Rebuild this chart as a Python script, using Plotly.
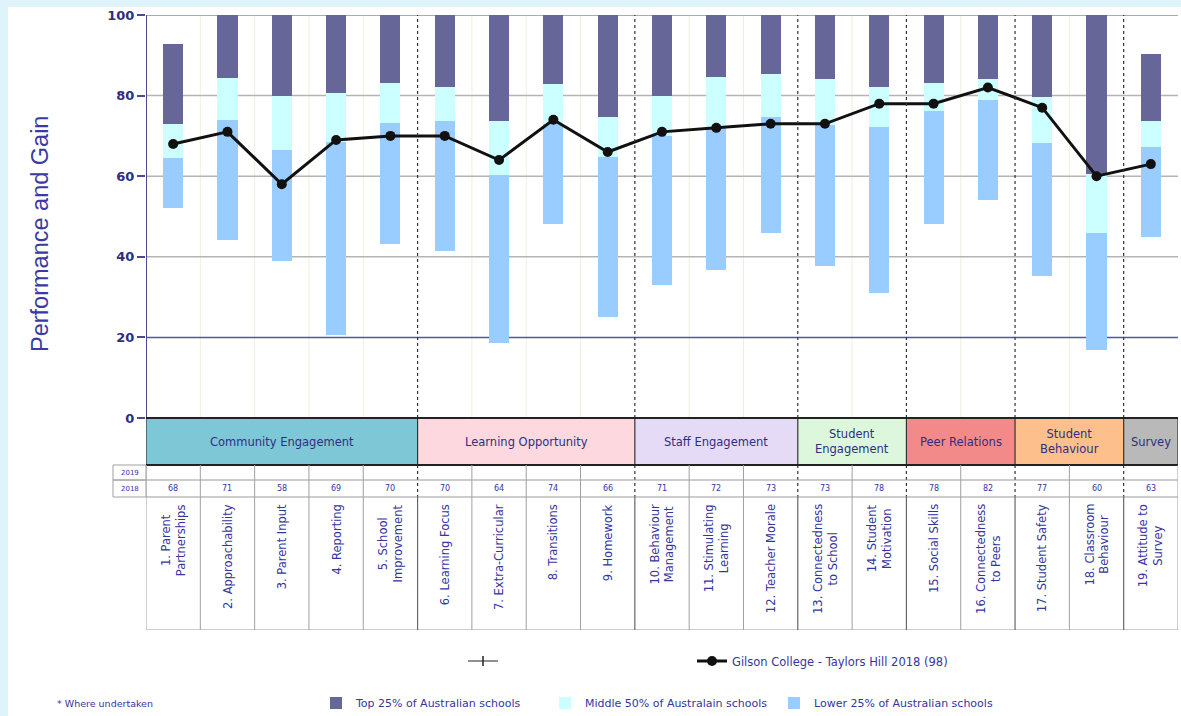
import plotly.graph_objects as go

# ---------------- data ----------------
labels = ["1. Parent<br>Partnerships", "2. Approachability", "3. Parent Input", "4. Reporting",
          "5. School<br>Improvement", "6. Learning Focus", "7. Extra-Curricular", "8. Transitions",
          "9. Homework", "10. Behaviour<br>Management", "11. Stimulating<br>Learning",
          "12. Teacher Morale", "13. Connectedness<br>to School", "14. Student<br>Motivation",
          "15. Social Skills", "16. Connectedness<br>to Peers", "17. Student Safety",
          "18. Classroom<br>Behaviour", "19. Attitude to<br>Survey"]
lower_min = [52.0, 44.2, 39.0, 20.6, 43.3, 41.5, 18.6, 48.2, 25.0, 33.0, 36.7, 46.0, 37.7, 31.1, 48.2, 54.2, 35.2, 16.9, 45.0]
lower_top = [64.6, 74.0, 66.6, 68.6, 73.1, 73.8, 60.2, 73.0, 64.7, 70.1, 72.0, 74.6, 72.6, 72.2, 76.3, 78.8, 68.2, 46.0, 67.2]
middle_top = [72.9, 84.3, 79.8, 80.6, 83.1, 82.2, 73.6, 82.9, 74.8, 80.0, 84.5, 85.4, 84.1, 82.1, 83.1, 84.1, 79.6, 60.6, 73.6]
top_max = [92.8, 100, 100, 100, 100, 100, 100, 100, 100, 100, 100, 100, 100, 100, 100, 100, 100, 100, 90.3]
school_2018 = [68, 71, 58, 69, 70, 70, 64, 74, 66, 71, 72, 73, 73, 78, 78, 82, 77, 60, 63]
groups = ["Community Engagement", "Learning Opportunity", "Staff Engagement", "Student<br>Engagement",
          "Peer Relations", "Student<br>Behaviour", "Survey"]
group_sizes = [5, 4, 3, 2, 2, 2, 1]
group_colors = ["#7ec7d7", "#fdd8de", "#e6dbf7", "#dcf7dc", "#f28a8a", "#fdbf8b", "#b9b9b9"]
series_name = "Gilson College - Taylors Hill 2018 (98)"
y_ticks = [0, 20, 40, 60, 80, 100]

# ---------------- geometry helpers ----------------
W, H = 1181, 716
L, R, T, B = 146, 3, 15, 86
PW, PH = W - L - R, H - T - B
K = 4.03                      # px per unit
Y0PX = 418                    # pixel of value 0
YMIN = -(H - B - Y0PX) / K

def yv(py):
    return (Y0PX - py) / K

def xp(px):
    return (px - L) / PW

def yp(py):
    return (H - B - py) / PH

n = len(labels)
xs = list(range(1, n + 1))
NAVY = "#2f2f80"
TXT = "#3535a0"
WIDE = "DejaVu Sans, Verdana, sans-serif"

fig = go.Figure()

fig.add_trace(go.Bar(x=xs, y=[b - a for a, b in zip(lower_min, lower_top)], base=lower_min,
                     width=0.37, marker=dict(color="#99ccff", line=dict(width=0)),
                     name="Lower 25% of Australian schools", legend="legend2", legendrank=3))
fig.add_trace(go.Bar(x=xs, y=[b - a for a, b in zip(lower_top, middle_top)], base=lower_top,
                     width=0.37, marker=dict(color="#ccffff", line=dict(width=0)),
                     name="Middle 50% of Australain schools", legend="legend2", legendrank=2))
fig.add_trace(go.Bar(x=xs, y=[b - a for a, b in zip(middle_top, top_max)], base=middle_top,
                     width=0.37, marker=dict(color="#666699", line=dict(width=0)),
                     name="Top 25% of Australian schools", legend="legend2", legendrank=1))

fig.add_trace(go.Scatter(x=[None], y=[None], mode="lines+markers", name=" ",
                         line=dict(color="#222", width=1),
                         marker=dict(symbol="line-ns-open", size=7, line=dict(width=1.5, color="#222"))))
fig.add_trace(go.Scatter(x=xs, y=school_2018, mode="lines+markers", name=series_name,
                         line=dict(color="#111111", width=3), legend="legend3",
                         marker=dict(color="#111111", size=10)))

shapes = []
shapes.append(dict(type="rect", xref="paper", yref="paper", x0=xp(8), x1=xp(W + 20),
                   y0=yp(H + 20), y1=yp(7), fillcolor="white", line=dict(width=0), layer="below"))

boundaries = []
acc = 0
for s in group_sizes[:-1]:
    acc += s
    boundaries.append(acc + 0.5)

for i in range(1, n):
    if i + 0.5 not in boundaries:
        shapes.append(dict(type="line", xref="x", yref="y", x0=i + 0.5, x1=i + 0.5, y0=0, y1=100,
                           line=dict(color="#efefdf", width=1), layer="below"))
for g in [20, 40, 60, 80, 100]:
    col = {20: "#5555a5", 100: "#8a8ab8"}.get(g, "#b4b4b4")
    shapes.append(dict(type="line", xref="x", yref="y", x0=0.5, x1=n + 0.5, y0=g, y1=g,
                       line=dict(color=col, width=1.5), layer="below"))
for b in boundaries:
    shapes.append(dict(type="line", xref="x", yref="y", x0=b, x1=b, y0=0, y1=100,
                       line=dict(color="#333333", width=1.2, dash="dot")))
    shapes.append(dict(type="line", xref="x", yref="y", x0=b, x1=b, y0=yv(465), y1=yv(497),
                       line=dict(color="#333333", width=1.2, dash="dot")))
shapes.append(dict(type="line", xref="x", yref="y", x0=0.5, x1=0.5, y0=0, y1=100,
                   line=dict(color="#4a4a90", width=2)))

start = 0.5
for g, s, c in zip(groups, group_sizes, group_colors):
    shapes.append(dict(type="rect", xref="x", yref="y", x0=start, x1=start + s, y0=yv(465), y1=0,
                       fillcolor=c, line=dict(width=0)))
    shapes.append(dict(type="line", xref="x", yref="y", x0=start, x1=start, y0=yv(465), y1=0,
                       line=dict(color="#333333", width=1.2)))
    start += s
shapes.append(dict(type="line", xref="x", yref="y", x0=n + 0.5, x1=n + 0.5, y0=yv(465), y1=0,
                   line=dict(color="#333333", width=1.2)))
for yy in [0, yv(465)]:
    shapes.append(dict(type="line", xref="x", yref="y", x0=0.5, x1=n + 0.5, y0=yy, y1=yy,
                       line=dict(color="#222222", width=2)))

for py in [480, 497, 630]:
    shapes.append(dict(type="line", xref="x", yref="y", x0=0.5, x1=n + 0.5, y0=yv(py), y1=yv(py),
                       line=dict(color="#9a9a9a", width=1)))
for i in range(0, n + 1):
    xb = i + 0.5
    if xb in boundaries:
        shapes.append(dict(type="line", xref="x", yref="y", x0=xb, x1=xb, y0=yv(497), y1=yv(630),
                           line=dict(color="#666666", width=1.2)))
    else:
        shapes.append(dict(type="line", xref="x", yref="y", x0=xb, x1=xb, y0=yv(465), y1=yv(630),
                           line=dict(color="#a0a0a0", width=1)))
for py0, py1 in [(465, 480), (480, 497)]:
    shapes.append(dict(type="rect", xref="paper", yref="y", x0=xp(113), x1=xp(146),
                       y0=yv(py1), y1=yv(py0), line=dict(color="#a0a0a0", width=1)))

annotations = []
for yr, py in [("2019", 472.5), ("2018", 488.5)]:
    annotations.append(dict(xref="paper", yref="y", x=xp(129.5), y=yv(py), text=yr,
                            xanchor="center", yanchor="middle", showarrow=False,
                            font=dict(size=7, color=TXT, family=WIDE)))
for x, v, lab in zip(xs, school_2018, labels):
    annotations.append(dict(xref="x", yref="y", x=x, y=yv(488.5), text=str(v), showarrow=False,
                            xanchor="center", yanchor="middle",
                            font=dict(size=8, color=TXT, family=WIDE)))
    annotations.append(dict(xref="x", yref="y", x=x, y=yv(502), text=lab, textangle=-90,
                            yanchor="top", xanchor="center", align="center", showarrow=False,
                            font=dict(size=11.5, color=TXT, family=WIDE)))
start = 0.5
for g, s in zip(groups, group_sizes):
    annotations.append(dict(xref="x", yref="y", x=start + s / 2, y=yv(441.5), text=g,
                            xanchor="center", yanchor="middle", showarrow=False,
                            font=dict(size=11.5, color=NAVY, family=WIDE)))
    start += s
annotations.append(dict(xref="paper", yref="paper", x=xp(40), y=yp(234), text="Performance and Gain",
                        xanchor="center", yanchor="middle",
                        textangle=-90, showarrow=False, font=dict(size=23.5, color="#3a3aa5")))
annotations.append(dict(xref="paper", yref="paper", x=xp(55), y=yp(703), xanchor="left",
                        yanchor="middle", text="* Where undertaken", showarrow=False,
                        font=dict(size=9.5, color=TXT, family=WIDE)))

leg_common = dict(xanchor="left", yanchor="middle", orientation="h", bgcolor="rgba(0,0,0,0)")
fig.update_layout(
    width=W, height=H,
    margin=dict(l=L, r=R, t=T, b=B, autoexpand=False),
    paper_bgcolor="#dff3fb", plot_bgcolor="white",
    font=dict(family="Liberation Sans, Arial, sans-serif", color=TXT),
    barmode="overlay", bargap=0,
    xaxis=dict(range=[0.5, n + 0.5], visible=False, fixedrange=True),
    yaxis=dict(range=[YMIN, 100], tickvals=y_ticks, ticktext=[f"<b>{t}</b>" for t in y_ticks],
               ticks="outside", ticklen=8, tickcolor="#4a4a90", tickwidth=1.5,
               tickfont=dict(size=13, color="#2e2e7e", family=WIDE), showgrid=False, zeroline=False,
               showline=False, fixedrange=True),
    showlegend=True,
    legend=dict(x=xp(463), y=yp(661), font=dict(size=11.5, color=TXT, family=WIDE), **leg_common),
    legend3=dict(x=xp(692), y=yp(661), font=dict(size=11.5, color=TXT, family=WIDE), **leg_common),
    legend2=dict(x=xp(316), y=yp(703), entrywidth=184, entrywidthmode="pixels",
                 font=dict(size=11, color=TXT, family=WIDE), **leg_common),
    shapes=shapes, annotations=annotations,
)

fig.write_html("out.html", config={"displayModeBar": False},
               post_script="document.body.style.margin='0';document.body.style.overflow='hidden';")
